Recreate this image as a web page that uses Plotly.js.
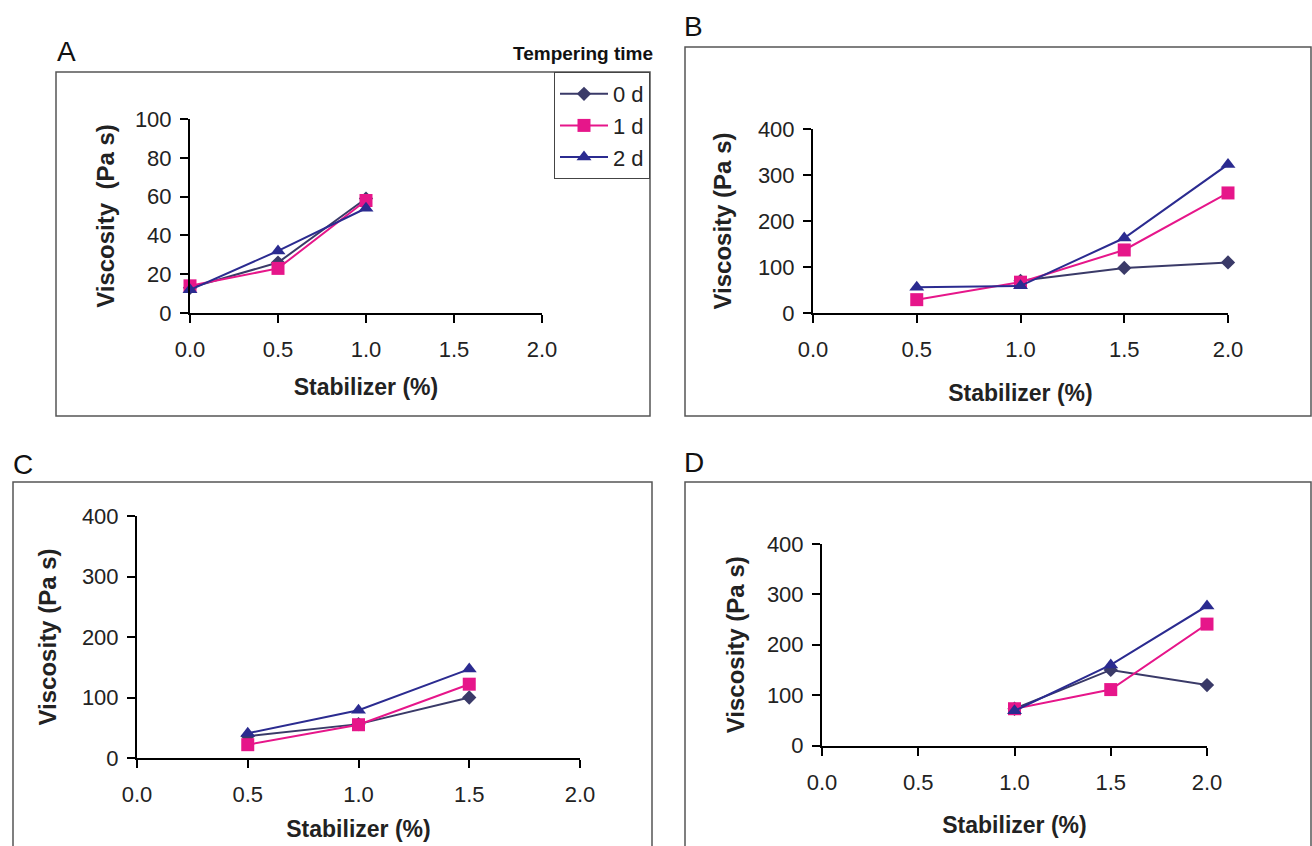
<!DOCTYPE html>
<html>
<head>
<meta charset="utf-8">
<script src="https://cdn.plot.ly/plotly-3.0.1.min.js"></script>
<style>
  html, body { margin: 0; padding: 0; background: #ffffff; }
  #chart { width: 1312px; height: 846px; }
</style>
</head>
<body>
<div id="chart"></div>
<script>
// ---------------- data ----------------
const seriesNames = ["0 d", "1 d", "2 d"];
const stabilizerTicks = [0.0, 0.5, 1.0, 1.5, 2.0];
const stabilizerTickLabels = ["0.0", "0.5", "1.0", "1.5", "2.0"];

// Panel A
const aX0 = [0.0, 0.5, 1.0];
const aY0 = [13, 26, 59];
const aX1 = [0.0, 0.5, 1.0];
const aY1 = [14, 23, 58];
const aX2 = [0.0, 0.5, 1.0];
const aY2 = [12, 32, 54];

// Panel B
const bX0 = [1.0, 1.5, 2.0];
const bY0 = [70, 98, 110];
const bX1 = [0.5, 1.0, 1.5, 2.0];
const bY1 = [29, 67, 137, 261];
const bX2 = [0.5, 1.0, 1.5, 2.0];
const bY2 = [56, 59, 163, 323];

// Panel C
const cX0 = [0.5, 1.0, 1.5];
const cY0 = [36, 56, 100];
const cX1 = [0.5, 1.0, 1.5];
const cY1 = [22, 55, 122];
const cX2 = [0.5, 1.0, 1.5];
const cY2 = [41, 79, 147];

// Panel D
const dX0 = [1.0, 1.5, 2.0];
const dY0 = [73, 150, 120];
const dX1 = [1.0, 1.5, 2.0];
const dY1 = [73, 111, 241];
const dX2 = [1.0, 1.5, 2.0];
const dY2 = [69, 160, 277];

const yTicksA = [0, 20, 40, 60, 80, 100];
const yTicksBCD = [0, 100, 200, 300, 400];

// ---------------- styling ----------------
const W = 1312, H = 846;
const FONT = '"Liberation Sans", Arial, Helvetica, sans-serif';
const colors = ["#3a3a68", "#e6168a", "#2b2b90"];
const symbols = ["diamond", "square", "triangle-up"];
const msizes = [11, 13, 13];

const px = v => v / W;
const py = v => 1 - v / H;

function mkTraces(xs, ys, xa, ya, showLegend) {
  return xs.map((x, i) => ({
    type: "scatter",
    mode: "lines+markers",
    name: seriesNames[i],
    legendgroup: "g" + i,
    x: x,
    y: ys[i],
    xaxis: xa,
    yaxis: ya,
    showlegend: showLegend,
    cliponaxis: false,
    line: { color: colors[i], width: 2 },
    marker: { symbol: symbols[i], size: msizes[i], color: colors[i] },
    hoverinfo: "x+y+name"
  }));
}

const data = [
  ...mkTraces([aX0, aX1, aX2], [aY0, aY1, aY2], "x", "y", true),
  ...mkTraces([bX0, bX1, bX2], [bY0, bY1, bY2], "x2", "y2", false),
  ...mkTraces([cX0, cX1, cX2], [cY0, cY1, cY2], "x3", "y3", false),
  ...mkTraces([dX0, dX1, dX2], [dY0, dY1, dY2], "x4", "y4", false)
];

function xAxis(left, right, anchor, standoff) {
  return {
    domain: [px(left), px(right)],
    anchor: anchor,
    range: [0, 2],
    tickmode: "array",
    tickvals: stabilizerTicks,
    ticktext: stabilizerTickLabels,
    showline: true, linecolor: "#000", linewidth: 2,
    ticks: "outside", ticklen: 8, tickwidth: 2, tickcolor: "#000",
    ticklabelstandoff: 8,
    showgrid: false, zeroline: false, automargin: false, fixedrange: true,
    tickfont: { family: FONT, size: 22, color: "#222" },
    title: { text: "Stabilizer (%)", standoff: standoff,
             font: { family: FONT, size: 23, color: "#222", weight: "bold" } }
  };
}
function yAxis(bottom, top, anchor, max, ticks, title, standoff) {
  return {
    domain: [py(bottom), py(top)],
    anchor: anchor,
    range: [0, max],
    tickmode: "array",
    tickvals: ticks,
    showline: true, linecolor: "#000", linewidth: 2,
    ticks: "outside", ticklen: 8, tickwidth: 2, tickcolor: "#000",
    ticklabelstandoff: 4,
    showgrid: false, zeroline: false, automargin: false, fixedrange: true,
    tickfont: { family: FONT, size: 22, color: "#222" },
    title: { text: title, standoff: standoff,
             font: { family: FONT, size: 24, color: "#222", weight: "bold" } }
  };
}

const boxLine = { color: "#555", width: 1.5 };
function box(x0, y0, x1, y1) {
  return { type: "rect", xref: "paper", yref: "paper",
           x0: px(x0), x1: px(x1), y0: py(y1), y1: py(y0),
           line: boxLine, fillcolor: "rgba(0,0,0,0)", layer: "below" };
}
function letter(t, x, y) {
  return { text: t, xref: "paper", yref: "paper", x: px(x), y: py(y),
           xanchor: "center", yanchor: "middle", showarrow: false,
           font: { family: FONT, size: 28, color: "#111" } };
}

const layout = {
  width: W, height: H,
  margin: { l: 0, r: 0, t: 0, b: 0 },
  paper_bgcolor: "#ffffff",
  plot_bgcolor: "rgba(0,0,0,0)",
  font: { family: FONT, color: "#222" },
  showlegend: true,
  legend: {
    x: px(650), y: py(72), xanchor: "right", yanchor: "top",
    bgcolor: "#ffffff", bordercolor: "#444", borderwidth: 1,
    font: { family: FONT, size: 22, color: "#222" },
    tracegroupgap: 0, itemwidth: 48
  },
  xaxis: xAxis(190, 542, "y", 17),
  yaxis: yAxis(313, 119, "x", 100, yTicksA, "Viscosity\u00a0 (Pa s)", 13),
  xaxis2: xAxis(813, 1228, "y2", 23),
  yaxis2: yAxis(313, 129, "x2", 400, yTicksBCD, "Viscosity (Pa s)", 19),
  xaxis3: xAxis(137, 580, "y3", 14),
  yaxis3: yAxis(758, 516, "x3", 400, yTicksBCD, "Viscosity (Pa s)", 18),
  xaxis4: xAxis(822, 1207, "y4", 23),
  yaxis4: yAxis(745.5, 544, "x4", 400, yTicksBCD, "Viscosity (Pa s)", 15),
  shapes: [
    box(56, 72, 650, 416),
    box(685, 47, 1311, 416),
    box(13, 482, 652, 850),
    box(685, 482, 1311, 850)
  ],
  annotations: [
    letter("A", 66, 52),
    letter("B", 693, 27),
    letter("C", 23, 464),
    letter("D", 694, 463),
    { text: "Tempering time", xref: "paper", yref: "paper",
      x: px(655), y: py(53), xanchor: "right", yanchor: "middle", showarrow: false,
      font: { family: FONT, size: 19, color: "#111", weight: "bold" } }
  ]
};

Plotly.newPlot("chart", data, layout, { displayModeBar: false, staticPlot: true });
</script>
</body>
</html>
